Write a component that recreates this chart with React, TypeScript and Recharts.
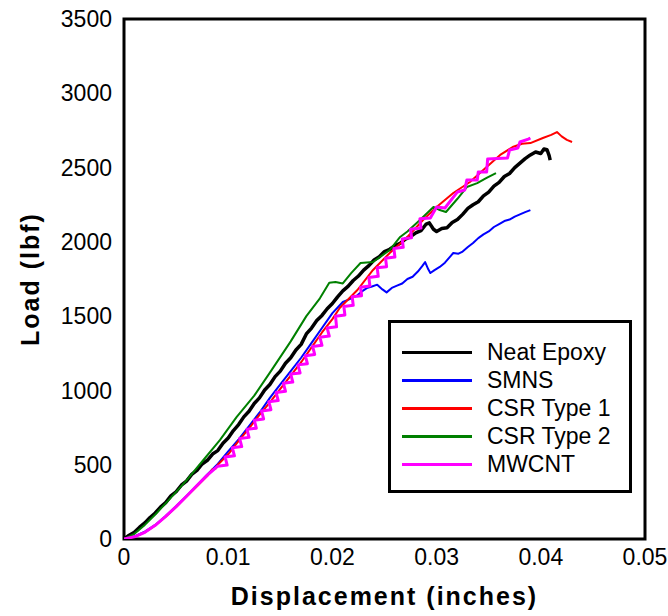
import { LineChart, Line, XAxis, YAxis, Legend, ReferenceArea } from "recharts";

const FONT = '"Liberation Sans", Arial, Helvetica, sans-serif';

const xTicks = [0, 0.01, 0.02, 0.03, 0.04, 0.05];
const yTicks = [0, 500, 1000, 1500, 2000, 2500, 3000, 3500];

// [displacement (in), load (lbf)]
const neatEpoxy: [number, number][] = [
  [0, 0], [0.0005, 25], [0.001, 45], [0.0015, 80], [0.002, 108], [0.0025, 145],
  [0.003, 175], [0.0035, 215], [0.004, 245], [0.0045, 290], [0.005, 318], [0.0055, 362],
  [0.006, 390], [0.0065, 435], [0.007, 462], [0.0075, 505], [0.008, 530], [0.0085, 572],
  [0.009, 595], [0.0095, 645], [0.01, 680], [0.0105, 730], [0.011, 770], [0.0115, 822],
  [0.012, 860], [0.0125, 912], [0.013, 950], [0.0135, 1003], [0.014, 1040], [0.0145, 1093],
  [0.015, 1130], [0.0155, 1183], [0.016, 1220], [0.0165, 1272], [0.017, 1310], [0.0175, 1380],
  [0.018, 1420], [0.0185, 1470], [0.019, 1505], [0.0195, 1550], [0.02, 1585], [0.0205, 1630],
  [0.021, 1670], [0.0215, 1700], [0.022, 1740], [0.0225, 1770], [0.023, 1810], [0.0235, 1840],
  [0.024, 1878], [0.0245, 1900], [0.025, 1935], [0.0255, 1950], [0.026, 1975], [0.0265, 1990],
  [0.027, 2018], [0.0275, 2035], [0.028, 2060], [0.0285, 2075], [0.029, 2120], [0.0293, 2128],
  [0.0297, 2085], [0.03, 2070], [0.0305, 2090], [0.031, 2095], [0.0315, 2130], [0.032, 2150],
  [0.0325, 2185], [0.033, 2225], [0.0335, 2250], [0.034, 2270], [0.0345, 2310], [0.035, 2335],
  [0.0355, 2375], [0.036, 2400], [0.0365, 2440], [0.037, 2460], [0.0375, 2500], [0.038, 2530],
  [0.0385, 2560], [0.039, 2585], [0.0395, 2605], [0.04, 2595], [0.0403, 2625], [0.0406, 2620],
  [0.0408, 2580], [0.0409, 2550],
];

const smns: [number, number][] = [
  [0, 0], [0.001, 18], [0.002, 50], [0.003, 95], [0.004, 155], [0.005, 220], [0.006, 290],
  [0.007, 360], [0.008, 435], [0.009, 505], [0.01, 590], [0.011, 670], [0.012, 760],
  [0.013, 850], [0.014, 950], [0.015, 1040], [0.016, 1130], [0.017, 1220], [0.018, 1320],
  [0.019, 1420], [0.02, 1520], [0.021, 1595], [0.0215, 1610], [0.0224, 1640], [0.0228, 1665],
  [0.0233, 1689], [0.0238, 1700], [0.0243, 1712], [0.0248, 1680], [0.0252, 1660], [0.0257, 1690],
  [0.0262, 1705], [0.0267, 1720], [0.0272, 1750], [0.0277, 1765], [0.0282, 1800], [0.0286, 1835],
  [0.0289, 1864], [0.0292, 1815], [0.0294, 1790], [0.0298, 1810], [0.0303, 1831], [0.0308, 1860],
  [0.0313, 1900], [0.0316, 1925], [0.0321, 1920], [0.0325, 1935], [0.033, 1965], [0.0335, 1992],
  [0.034, 2025], [0.0345, 2050], [0.035, 2070], [0.0355, 2100], [0.036, 2120], [0.0365, 2140],
  [0.037, 2150], [0.0375, 2170], [0.038, 2185], [0.0385, 2200], [0.039, 2214],
];

const csrType1: [number, number][] = [
  [0, 0], [0.001, 15], [0.002, 45], [0.003, 92], [0.004, 150], [0.005, 215], [0.006, 285],
  [0.007, 355], [0.008, 425], [0.0085, 470], [0.0088, 475], [0.009, 500], [0.01, 570],
  [0.011, 660], [0.012, 745], [0.013, 835], [0.014, 920], [0.015, 1010], [0.016, 1100],
  [0.017, 1190], [0.018, 1290], [0.019, 1390], [0.02, 1480], [0.0207, 1555], [0.0224, 1676],
  [0.0239, 1811], [0.0255, 1925], [0.0272, 2033], [0.0287, 2147], [0.03, 2235], [0.0316, 2329],
  [0.0332, 2403], [0.0348, 2504], [0.0361, 2585], [0.0373, 2638], [0.0382, 2660], [0.039, 2665],
  [0.0402, 2699], [0.041, 2720], [0.04155, 2739], [0.042, 2710], [0.0425, 2686], [0.043, 2672],
];

const csrType2: [number, number][] = [
  [0, 0], [0.001, 35], [0.002, 95], [0.003, 165], [0.0044, 270], [0.006, 395], [0.0076, 530],
  [0.0092, 666], [0.0108, 820], [0.0125, 965], [0.014, 1120], [0.016, 1330], [0.0175, 1500],
  [0.0188, 1620], [0.0197, 1725], [0.0203, 1730], [0.021, 1720], [0.0218, 1790], [0.0227, 1858],
  [0.0239, 1864], [0.0255, 1945], [0.0265, 2033], [0.0272, 2070], [0.0284, 2147], [0.0297, 2235],
  [0.0303, 2214], [0.0309, 2201], [0.032, 2290], [0.0329, 2369], [0.0339, 2395], [0.0348, 2430],
  [0.0357, 2463],
];

const mwcnt: [number, number][] = [
  [0, 0], [0.001, 15], [0.002, 45], [0.003, 92], [0.004, 152], [0.005, 218], [0.006, 288],
  [0.007, 360], [0.008, 430],
  [0.009, 490], [0.0099, 498], [0.0097, 552], [0.0106, 560], [0.0104, 614], [0.0113, 622],
  [0.0111, 676], [0.012, 684], [0.0118, 738], [0.0127, 746], [0.0125, 800], [0.0134, 808],
  [0.0132, 862], [0.0141, 870], [0.0139, 924], [0.0148, 932], [0.0146, 986], [0.0155, 994],
  [0.0153, 1048], [0.0162, 1056], [0.016, 1110], [0.0169, 1118], [0.0167, 1172], [0.0176, 1180],
  [0.0174, 1234], [0.0183, 1242], [0.0181, 1296], [0.019, 1304], [0.0188, 1358], [0.0197, 1366],
  [0.0195, 1420], [0.0204, 1428], [0.0203, 1500], [0.0212, 1508], [0.0211, 1565], [0.022, 1573],
  [0.0219, 1630], [0.0228, 1638], [0.0227, 1695], [0.0236, 1703], [0.0235, 1760], [0.0244, 1768],
  [0.0243, 1825], [0.0252, 1833], [0.0251, 1890], [0.026, 1898], [0.0259, 1955], [0.0268, 1963],
  [0.0267, 2020], [0.0276, 2028], [0.0275, 2085], [0.0285, 2093], [0.0284, 2155], [0.0294, 2160],
  [0.03, 2235], [0.0308, 2228], [0.032, 2336], [0.0327, 2349], [0.0329, 2416], [0.0339, 2416],
  [0.034, 2470], [0.0348, 2470], [0.0349, 2558], [0.0368, 2564], [0.037, 2618], [0.0378, 2632],
  [0.038, 2672], [0.0388, 2692], [0.039, 2699],
];

const series = [
  { name: "Neat Epoxy", color: "#000000", width: 3.5, points: neatEpoxy },
  { name: "SMNS", color: "#0000ff", width: 2, points: smns },
  { name: "CSR Type 1", color: "#ff0000", width: 2, points: csrType1 },
  { name: "CSR Type 2", color: "#008000", width: 2, points: csrType2 },
  { name: "MWCNT", color: "#ff00ff", width: 3, points: mwcnt },
];

const toRows = (pts: [number, number][]) => pts.map(([x, y]) => ({ x, y }));

const renderLegend = () => (
  <div
    style={{
      boxSizing: "border-box",
      width: 244,
      height: 173,
      border: "3px solid #000",
      background: "#fff",
      paddingTop: 15,
      paddingLeft: 11,
      fontFamily: FONT,
      fontSize: 23,
      color: "#000",
    }}
  >
    {series.map((s) => (
      <div key={s.name} style={{ display: "flex", alignItems: "center", height: 28 }}>
        <div style={{ width: 70, height: 3, background: s.color, marginRight: 15 }} />
        <span style={{ lineHeight: "28px", whiteSpace: "nowrap" }}>{s.name}</span>
      </div>
    ))}
  </div>
);

const tickStyle = { fontSize: 23, fill: "#000", fontFamily: FONT };
const titleStyle = {
  fontSize: 25,
  fontWeight: "bold",
  fill: "#000",
  fontFamily: FONT,
  letterSpacing: 2,
};

export default function App() {
  return (
    <div style={{ position: "absolute", left: 0, top: 0, width: 668, height: 616, background: "#fff" }}>
      <LineChart width={668} height={616} margin={{ top: 19, right: 23, left: 0, bottom: 0 }}>
        <XAxis
          type="number"
          dataKey="x"
          domain={[0, 0.05]}
          ticks={xTicks}
          tickFormatter={(v: number) => (v === 0 ? "0" : v.toFixed(2))}
          tick={tickStyle}
          tickLine={false}
          axisLine={false}
          tickSize={0}
          tickMargin={10}
          height={77}
          allowDataOverflow
          label={{
            value: "Displacement (inches)",
            position: "insideBottom",
            offset: 11,
            style: titleStyle,
          }}
        />
        <YAxis
          type="number"
          domain={[0, 3500]}
          ticks={yTicks}
          tick={tickStyle}
          tickLine={false}
          axisLine={false}
          tickSize={0}
          tickMargin={12}
          width={124}
          allowDataOverflow
          label={{
            value: "Load (lbf)",
            angle: -90,
            position: "insideLeft",
            offset: 30,
            style: { ...titleStyle, textAnchor: "middle" },
          }}
        />
        <ReferenceArea
          x1={0}
          x2={0.05}
          y1={0}
          y2={3500}
          fill="none"
          fillOpacity={0}
          stroke="#000"
          strokeWidth={3}
        />
        {series.map((s) => (
          <Line
            key={s.name}
            name={s.name}
            data={toRows(s.points)}
            dataKey="y"
            type="linear"
            stroke={s.color}
            strokeWidth={s.width}
            strokeLinejoin="round"
            dot={false}
            activeDot={false}
            isAnimationActive={false}
          />
        ))}
        <Legend
          layout="horizontal"
          verticalAlign="middle"
          align="center"
          width={244}
          height={173}
          wrapperStyle={{ left: 388, top: 320, width: 244, height: 173 }}
          content={renderLegend}
        />
      </LineChart>
    </div>
  );
}
